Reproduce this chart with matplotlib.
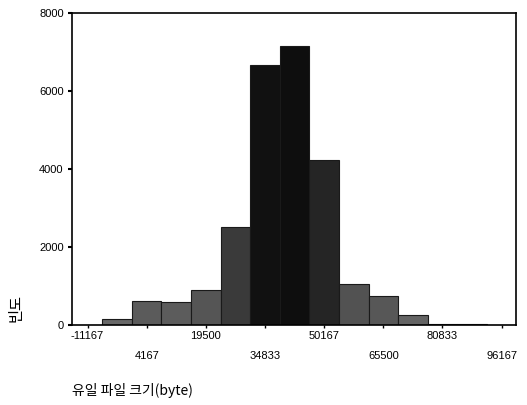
import matplotlib
matplotlib.use("Agg")
import matplotlib.pyplot as plt
import numpy as np

# bin centres (byte) and frequencies
bin_centers = [-11167, -3500, 4167, 11833, 19500, 27167, 34833, 42500,
               50167, 57833, 65500, 73167, 80833, 88500, 96167]
counts = [0, 150, 620, 590, 900, 2520, 6670, 7150,
          4220, 1050, 750, 260, 25, 25, 10]

row1_ticks = [-11167, 19500, 50167, 80833]
row2_ticks = [4167, 34833, 65500, 96167]
y_ticks = [0, 2000, 4000, 6000, 8000]

x_label = "유일 파일 크기(byte)"
y_label = "빈도"

plt.rcParams["font.family"] = ["Liberation Sans", "Noto Sans CJK KR", "DejaVu Sans"]

fig = plt.figure(figsize=(5.27, 4.05), dpi=100)
ax = fig.add_axes([72 / 527, 80 / 405, 444 / 527, 312 / 405])

width = bin_centers[1] - bin_centers[0]
# darker grey for taller bars, like the halftone in the scan
shade = plt.cm.Greys(0.62 + 0.33 * np.sqrt(np.array(counts) / max(counts)))
ax.bar(bin_centers, counts, width=width, color=shade,
       edgecolor="#1a1a1a", linewidth=0.8, align="center")

ax.set_xlim(-15200, 99900)
ax.set_ylim(0, 8000)

ax.set_yticks(y_ticks)
ax.set_yticklabels([str(v) for v in y_ticks], fontsize=8)
ax.set_xticks(row1_ticks)
ax.set_xticklabels([str(v) for v in row1_ticks], fontsize=8)
ax.set_xticks(row2_ticks, minor=True)
ax.set_xticklabels([str(v) for v in row2_ticks], minor=True, fontsize=8)

ax.tick_params(axis="y", direction="out", length=3, width=1.5, pad=3)
ax.tick_params(axis="x", which="major", direction="out", length=2, width=1, pad=2)
ax.tick_params(axis="x", which="minor", direction="out", length=2, width=1, pad=17)

for s in ax.spines.values():
    s.set_linewidth(1.2)
    s.set_color("black")

ax.set_ylabel(y_label, family=["Noto Sans CJK KR"], fontsize=11)
ax.yaxis.set_label_coords(-0.108, 0.055)
fig.text(72 / 527, 15 / 405, x_label, family=["Noto Sans CJK KR"],
         fontsize=10, ha="left", va="center")

fig.savefig("out.png", dpi=100)
